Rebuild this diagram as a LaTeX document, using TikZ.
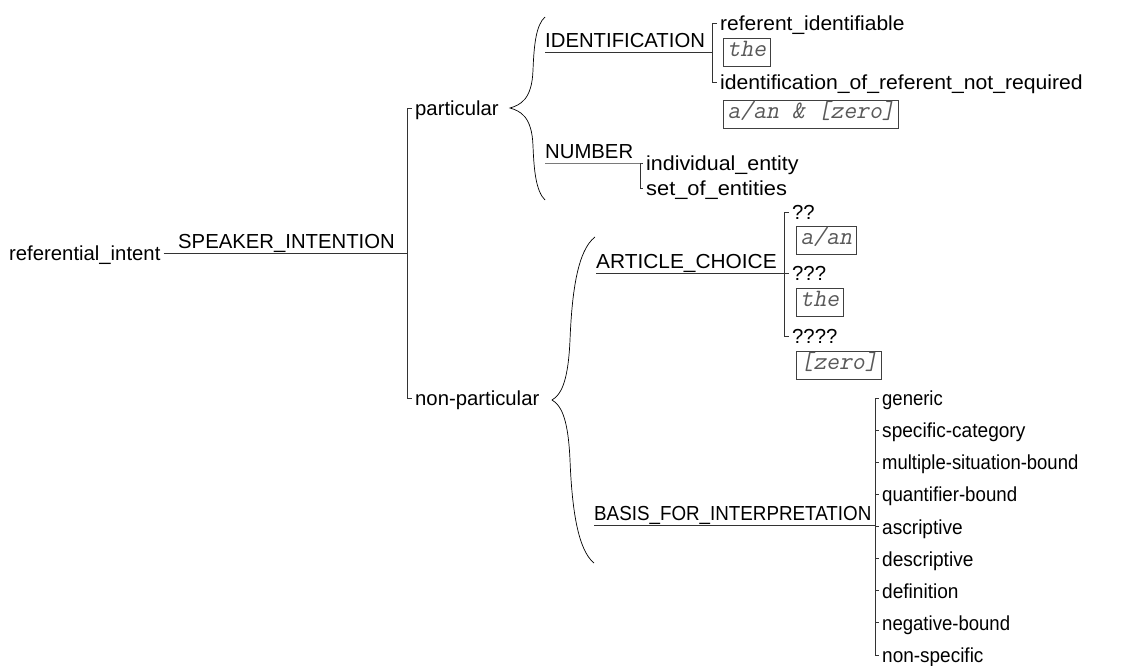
\documentclass[tikz,border=0pt]{standalone}
\usepackage{fontspec}
\setmainfont{Liberation Sans}
\newfontfamily\exfont{Latin Modern Mono}[FakeSlant=0.2]
% horizontal-only scaling of a label, to set its printed width
\newcommand\wscale[2]{\scalebox{#1}[1]{#2}}
\begin{document}
\begin{tikzpicture}[x=1pt,y=-1pt,
  every node/.style={font=\fontsize{20.3}{24}\selectfont},
  term/.style={anchor=west, inner xsep=3pt, inner ysep=0pt, text height=15pt, text depth=0pt},
  system/.style={anchor=south west, inner xsep=0pt, inner ysep=4pt, text depth=0pt},
  example/.style={anchor=north west, draw=black!75, line width=0.8pt, text=black!65,
    font=\exfont\fontsize{25}{27}\selectfont, inner xsep=4pt, inner ysep=0pt,
    minimum height=28pt, text height=11pt, text depth=3pt},
  net/.style={draw=black!80, line width=0.9pt},
  brace/.style={draw=black, line width=0.7pt}]
\useasboundingbox (0,0) rectangle (1145,666);

% entry condition and first system
\node[term] (ri) at (6,253) {referential\_intent};
\node[system] (si) at (178,253) {SPEAKER\_INTENTION};
\coordinate (siBar) at (407,253);
\node[term] (part) at (412,108) {particular};
\node[term] (npart) at (412,398) {non-particular};
\draw[net] (ri.east) -- (siBar);
\draw[net] (part.west) -- (part.west -| siBar) -- (npart.west -| siBar) -- (npart.west);

% simultaneous systems under "particular"
\draw[brace] (545,17) .. controls (536,25) and (534,45) .. (533,70)
  .. controls (532,100) and (520,105) .. (510,108)
  .. controls (520,111) and (532,116) .. (533,146)
  .. controls (534,171) and (536,191) .. (545,200);

\node[system] (ident) at (545,52) {IDENTIFICATION};
\coordinate (idBar) at (712,52);
\node[term] (refid) at (717,23) {\wscale{1.034}{referent\_identifiable}};
\node[example] (exThe) at (723,38) {the};
\node[term] (idnr) at (717,82) {\wscale{1.043}{identification\_of\_referent\_not\_required}};
\node[example] (exAnZero) at (723,100) {a/an \& [zero]};
\draw[net] (ident.south west) -- (idBar);
\draw[net] (refid.west) -- (refid.west -| idBar) -- (idnr.west -| idBar) -- (idnr.west);

\node[system] (num) at (545,163) {NUMBER};
\coordinate (numBar) at (640,163);
\node[term] (indiv) at (643,163) {\wscale{1.055}{individual\_entity}};
\node[term] (setof) at (643,188) {\wscale{1.076}{set\_of\_entities}};
\draw[net] (num.south west) -- (numBar) -- (indiv.west);
\draw[net] (numBar) -- (setof.west -| numBar) -- (setof.west);

% simultaneous systems under "non-particular"
\draw[brace] (595,237) .. controls (578,250) and (572,290) .. (570,340)
  .. controls (568,385) and (560,395) .. (552,400)
  .. controls (560,405) and (568,415) .. (570,460)
  .. controls (572,510) and (578,550) .. (594,563);

\node[system] (art) at (596,273) {\wscale{1.028}{ARTICLE\_CHOICE}};
\coordinate (artBar) at (784,273);
\node[term] (q2) at (789,212) {??};
\node[example] (exAn) at (796,226) {a/an};
\node[term] (q3) at (789,273) {???};
\node[example] (exThe2) at (796,288) {the};
\node[term] (q4) at (789,336) {????};
\node[example] (exZero) at (796,351) {[zero]};
\draw[net] (art.south west) -- (q3.west);
\draw[net] (q2.west) -- (q2.west -| artBar) -- (q4.west -| artBar) -- (q4.west);

\node[system] (basis) at (594,525) {\wscale{0.926}{BASIS\_FOR\_INTERPRETATION}};
\coordinate (bBar) at (875,525);
\foreach \name/\txt/\f [count=\i from 0] in {
    b0/generic/0.91, b1/specific-category/0.94, b2/multiple-situation-bound/0.91,
    b3/quantifier-bound/0.92, b4/ascriptive/0.94, b5/descriptive/0.94,
    b6/definition/0.94, b7/negative-bound/0.914, b8/non-specific/0.935}
  \node[term] (\name) at (879,398+32.125*\i) {\wscale{\f}{\txt}};
\draw[net] (basis.south west) -- (bBar);
\draw[net] (b0.west) -- (b0.west -| bBar) -- (b8.west -| bBar) -- (b8.west);
\foreach \name in {b1,b2,b3,b4,b5,b6,b7}
  \draw[net] (\name.west -| bBar) -- (\name.west);
\end{tikzpicture}
\end{document}
